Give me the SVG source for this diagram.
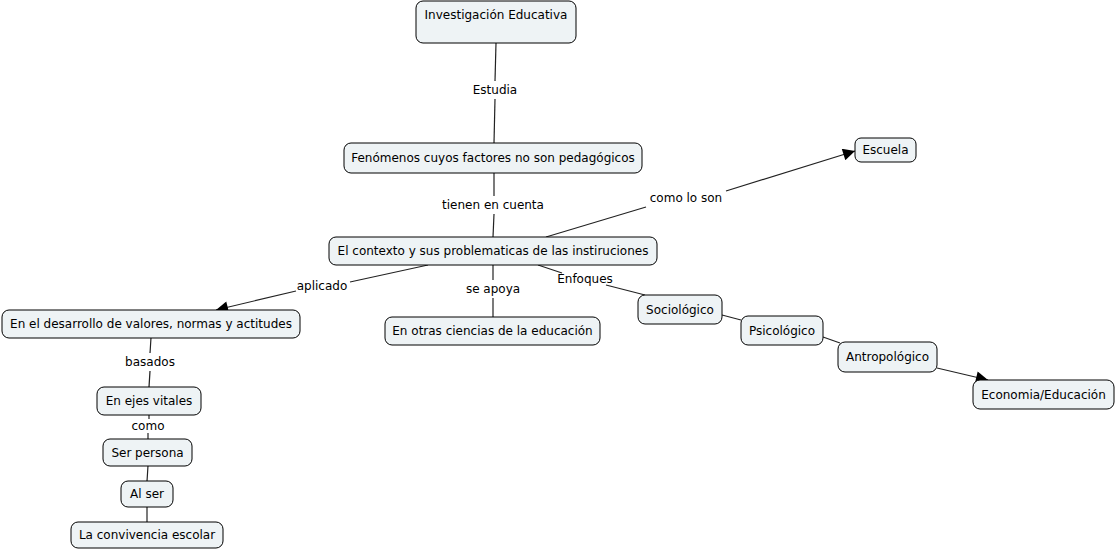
<svg xmlns="http://www.w3.org/2000/svg" width="1116" height="550" viewBox="0 0 1116 550">
<defs>
<marker id="arr" viewBox="0 0 10 10" refX="10" refY="5" markerWidth="14" markerHeight="12" markerUnits="userSpaceOnUse" orient="auto">
<path d="M0,0 L10,5 L0,10 z" fill="#000"/>
</marker>
<style>
.n rect{fill:#eef3f5;stroke:#000;stroke-width:1;}
text{font-family:"DejaVu Sans",Verdana,sans-serif;font-size:12px;fill:#000;text-anchor:middle;dominant-baseline:central;}
.c line{stroke:#222;stroke-width:1.2;}
</style>
</defs>
<rect width="1116" height="550" fill="#fff"/>
<g class="c" id="connectors">
<line x1="496" y1="43" x2="495" y2="81"/>
<line x1="495" y1="99" x2="494" y2="143"/>
<line x1="494" y1="173" x2="494" y2="196"/>
<line x1="494" y1="214" x2="493" y2="237"/>
<line x1="546" y1="237" x2="646" y2="207"/>
<line x1="726" y1="191" x2="855" y2="151" marker-end="url(#arr)"/>
<line x1="428" y1="265" x2="350" y2="282"/>
<line x1="296" y1="291" x2="216" y2="310" marker-end="url(#arr)"/>
<line x1="493" y1="265" x2="493" y2="280"/>
<line x1="493" y1="298" x2="493" y2="317"/>
<line x1="538" y1="265" x2="562" y2="273"/>
<line x1="606" y1="285" x2="645" y2="295"/>
<line x1="722" y1="315" x2="741" y2="320"/>
<line x1="823" y1="337" x2="840" y2="343"/>
<line x1="937" y1="368" x2="988" y2="380" marker-end="url(#arr)"/>
<line x1="151" y1="338" x2="150" y2="353"/>
<line x1="150" y1="371" x2="149" y2="387"/>
<line x1="149" y1="415" x2="149" y2="419"/>
<line x1="148" y1="433" x2="148" y2="439"/>
<line x1="148" y1="466" x2="147" y2="481"/>
<line x1="147" y1="507" x2="147" y2="522"/>
<text x="495" y="90">Estudia</text>
<text x="493" y="205">tienen en cuenta</text>
<text x="686" y="198">como lo son</text>
<text x="322" y="286">aplicado</text>
<text x="493" y="289">se apoya</text>
<text x="585" y="279">Enfoques</text>
<text x="150" y="362">basados</text>
<text x="148" y="426">como</text>
</g>
<g class="n" id="n1"><rect x="416" y="1" width="160" height="42" rx="7"/><text x="496" y="15">Investigación Educativa</text></g>
<g class="n" id="n2"><rect x="344" y="143" width="298" height="30" rx="7"/><text x="493" y="158">Fenómenos cuyos factores no son pedagógicos</text></g>
<g class="n" id="n3"><rect x="329" y="237" width="328" height="28" rx="7"/><text x="493" y="251">El contexto y sus problematicas de las instiruciones</text></g>
<g class="n" id="n4"><rect x="855" y="138" width="61" height="24" rx="6"/><text x="885.5" y="150">Escuela</text></g>
<g class="n" id="n5"><rect x="2" y="310" width="298" height="28" rx="7"/><text x="151" y="324">En el desarrollo de valores, normas y actitudes</text></g>
<g class="n" id="n6"><rect x="385" y="317" width="215" height="28" rx="7"/><text x="492.5" y="331">En otras ciencias de la educación</text></g>
<g class="n" id="n7"><rect x="638" y="295" width="84" height="29" rx="7"/><text x="680" y="309.5">Sociológico</text></g>
<g class="n" id="n8"><rect x="741" y="316" width="82" height="29" rx="7"/><text x="782" y="330.5">Psicológico</text></g>
<g class="n" id="n9"><rect x="838" y="342" width="99" height="30" rx="7"/><text x="887.5" y="357">Antropológico</text></g>
<g class="n" id="n10"><rect x="973" y="380" width="141" height="29" rx="7"/><text x="1043.5" y="394.5">Economia/Educación</text></g>
<g class="n" id="n11"><rect x="97" y="387" width="104" height="28" rx="7"/><text x="149" y="401">En ejes vitales</text></g>
<g class="n" id="n12"><rect x="103" y="439" width="89" height="27" rx="7"/><text x="147.5" y="452.5">Ser persona</text></g>
<g class="n" id="n13"><rect x="121" y="481" width="52" height="26" rx="7"/><text x="147" y="494">Al ser</text></g>
<g class="n" id="n14"><rect x="71" y="522" width="152" height="26" rx="7"/><text x="147" y="535">La convivencia escolar</text></g>
</svg>
